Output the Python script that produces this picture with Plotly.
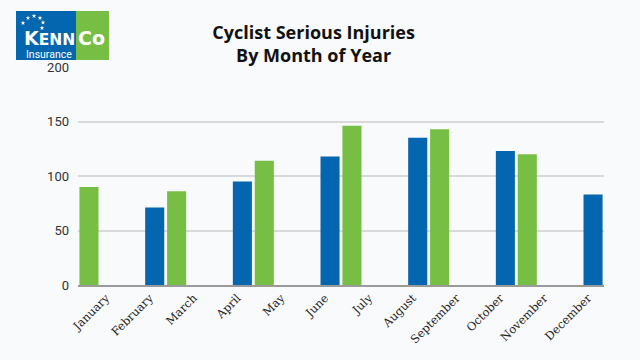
import math
import plotly.graph_objects as go

months = ["January", "February", "March", "April", "May", "June",
          "July", "August", "September", "October", "November", "December"]
green_vals = [90, None, 86, None, 114, None, 146, None, 143, None, 120, None]
blue_vals = [None, 71, None, 95, None, 118, None, 135, None, 123, None, 83]
y_ticks = [0, 50, 100, 150, 200]

BLUE = "#0466AF"
GREEN = "#77BF44"
BG = "#F9FAFC"

L, R, T, B = 78, 36, 67, 75
PW, PH = 640 - L - R, 360 - T - B


def px(x):
    return (x - L) / PW


def py(y):
    return 1 + (T - y) / PH


fig = go.Figure()
fig.add_trace(go.Bar(x=months, y=green_vals, marker=dict(color=GREEN, line=dict(width=0)),
                     showlegend=False, hoverinfo="x+y"))
fig.add_trace(go.Bar(x=months, y=blue_vals, marker=dict(color=BLUE, line=dict(width=0)),
                     showlegend=False, hoverinfo="x+y"))

fig.update_layout(
    width=640, height=360,
    barmode="group", bargap=0, bargroupgap=0.13,
    paper_bgcolor=BG, plot_bgcolor=BG,
    margin=dict(l=L, r=R, t=T, b=B, autoexpand=False),
    title=dict(text="<b>Cyclist Serious Injuries<br>By Month of Year</b>",
               x=0.49, xanchor="center", y=1 - 38.5 / 360, yanchor="middle",
               font=dict(family="Open Sans", size=18, color="#111111")),
    font=dict(family="Roboto", size=12, color="#333333"),
)
fig.update_xaxes(tickangle=-45, tickfont=dict(family="DejaVu Serif", size=11.5, color="#222222"),
                 showline=True, linecolor="#9a9a9a", linewidth=1.5, showgrid=False,
                 ticks="", ticklabelshift=6, fixedrange=True)
fig.update_yaxes(range=[0, 200], tickvals=y_ticks, showgrid=True, gridcolor="#D9D9D9",
                 gridwidth=1.5, zeroline=False, ticks="", ticklabelstandoff=8,
                 tickfont=dict(family="Roboto", size=13, color="#333333"),
                 fixedrange=True)

# Logo
fig.add_shape(type="rect", xref="paper", yref="paper", x0=px(16), x1=px(76),
              y0=py(60), y1=py(11), fillcolor=BLUE, line=dict(width=0), layer="above")
fig.add_shape(type="rect", xref="paper", yref="paper", x0=px(76), x1=px(109),
              y0=py(60), y1=py(11), fillcolor=GREEN, line=dict(width=0), layer="above")

fig.add_annotation(xref="paper", yref="paper", x=px(49), y=py(37.5), showarrow=False,
                   text="<b><span style='font-size:19px'>K</span>ENN</b>",
                   font=dict(family="DejaVu Sans", size=15.5, color="white"),
                   xanchor="center", yanchor="middle", borderpad=0)
fig.add_annotation(xref="paper", yref="paper", x=px(91.5), y=py(37.5), showarrow=False,
                   text="<b>Co</b>", font=dict(family="DejaVu Sans", size=19, color="white"),
                   xanchor="center", yanchor="middle", borderpad=0)
fig.add_annotation(xref="paper", yref="paper", x=px(48.5), y=py(54.5), showarrow=False,
                   text="Insurance", font=dict(family="Roboto", size=10.5, color="white"),
                   xanchor="center", yanchor="middle", borderpad=0)


def star_path(cx, cy, r_out=2.4, r_in=1.0):
    pts = []
    for k in range(10):
        r = r_out if k % 2 == 0 else r_in
        a = -math.pi / 2 + k * math.pi / 5
        pts.append((px(cx + r * math.cos(a)), py(cy + r * math.sin(a))))
    return "M " + " L ".join(f"{x:.5f},{y:.5f}" for x, y in pts) + " Z"


for sx, sy in [(23, 23), (28, 18), (34, 16), (40, 18), (43, 22.5), (42, 28)]:
    fig.add_shape(type="path", xref="paper", yref="paper", path=star_path(sx, sy),
                  fillcolor="white", line=dict(width=0), layer="above")

fig.write_html("out.html", config={"displayModeBar": False},
               post_script="document.body.style.margin='0';document.body.style.background='#F9FAFC';")
